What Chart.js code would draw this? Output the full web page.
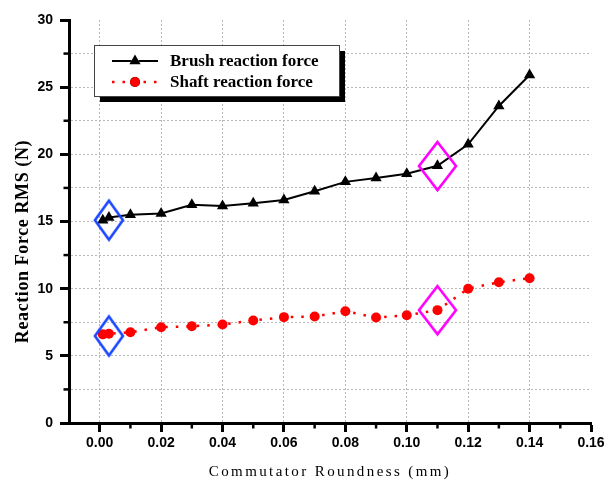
<!DOCTYPE html>
<html><head><meta charset="utf-8">
<script src="https://cdn.jsdelivr.net/npm/chart.js@4"></script>
<style>html,body{margin:0;padding:0;background:#fff}canvas{display:block}</style>
</head><body>
<canvas id="c" width="613" height="482"></canvas>
<script>
// ---------- data ----------
const roundness  = [0.001,0.003,0.01,0.02,0.03,0.04,0.05,0.06,0.07,0.08,0.09,0.10,0.11,0.12,0.13,0.14];
const brushForce = [15.1,15.3,15.5,15.6,16.25,16.15,16.35,16.6,17.25,17.95,18.23,18.55,19.15,20.75,23.6,25.9];
const shaftForce = [6.6,6.65,6.75,7.13,7.2,7.33,7.63,7.88,7.93,8.32,7.85,8.02,8.4,10.0,10.48,10.78];
const blueMarkX  = [0.003,0.003];
const blueMarkY  = [15.1,6.48];
const pinkMarkX  = [0.11,0.11];
const pinkMarkY  = [19.13,8.4];
const seriesLabels = ['Brush reaction force','Shaft reaction force'];
const xTitle = 'Commutator Roundness (mm)';
const yTitle = 'Reaction Force RMS (N)';
const xTickLabels = ['0.00','0.02','0.04','0.06','0.08','0.10','0.12','0.14','0.16'];
const yTickLabels = ['0','5','10','15','20','25','30'];
const xMinorTicks = [0.01,0.03,0.05,0.07,0.09,0.11,0.13,0.15];
const yMinorTicks = [2.5,7.5,12.5,17.5,22.5,27.5];

// ---------- helpers ----------
const pts = (xs, ys) => xs.map((x, i) => ({x, y: ys[i]}));
function diamond(w, h, color, lw) {
  const c = document.createElement('canvas');
  c.width = w + 6; c.height = h + 6;
  const g = c.getContext('2d');
  g.strokeStyle = color; g.lineWidth = lw; g.lineJoin = 'miter';
  g.beginPath();
  g.moveTo(c.width / 2, 3); g.lineTo(w + 3, c.height / 2);
  g.lineTo(c.width / 2, h + 3); g.lineTo(3, c.height / 2);
  g.closePath(); g.stroke();
  return c;
}
const TITLE_STYLE = { x: {spacing: 2.4, dx: 0, dy: 0}, y: {spacing: 0.6, dx: 0, dy: 20} };
const origDrawTitle = Chart.LinearScale.prototype.drawTitle;
Chart.LinearScale.prototype.drawTitle = function (...a) {
  const s = TITLE_STYLE[this.id] || {};
  const ctx = this.ctx;
  ctx.save();
  if ('letterSpacing' in ctx) ctx.letterSpacing = (s.spacing || 0) + 'px';
  ctx.translate(s.dx || 0, s.dy || 0);
  origDrawTitle.apply(this, a);
  ctx.restore();
};

const hund = v => Math.round(v * 100);
const tickFont = {family: "'Liberation Sans', Arial, sans-serif", size: 14, weight: 'bold'};
const GRID = '#b8b8b8';

const bgPlugin = {
  id: 'bg',
  beforeDraw(chart) {
    const c = chart.ctx; c.save(); c.fillStyle = '#fff';
    c.fillRect(0, 0, chart.width, chart.height); c.restore();
  }
};

const extrasPlugin = {
  id: 'extras',
  afterDraw(chart) {
    const c = chart.ctx, xs = chart.scales.x, ys = chart.scales.y, ca = chart.chartArea;
    c.save();
    c.strokeStyle = '#000'; c.lineWidth = 2.5;
    xMinorTicks.forEach(v => {
      const px = xs.getPixelForValue(v);
      c.beginPath(); c.moveTo(px, ca.bottom); c.lineTo(px, ca.bottom + 5.5); c.stroke();
    });
    yMinorTicks.forEach(v => {
      const py = ys.getPixelForValue(v);
      c.beginPath(); c.moveTo(ca.left, py); c.lineTo(ca.left - 5.5, py); c.stroke();
    });
    // legend
    const L = ca.left + 25, T = ca.top + 25, W = 245, H = 51;
    c.fillStyle = '#000'; c.fillRect(L + 6, T + 6, W, H);
    c.fillStyle = '#fff'; c.fillRect(L, T, W, H);
    c.strokeStyle = '#444'; c.lineWidth = 1; c.strokeRect(L + 0.5, T + 0.5, W, H);
    const ds = chart.data.datasets;
    const rows = [T + 16, T + 37];
    rows.forEach((ry, i) => {
      const d = ds[i];
      c.save();
      c.strokeStyle = d.borderColor; c.lineWidth = d.borderWidth;
      c.setLineDash(d.borderDash || []);
      c.beginPath(); c.moveTo(L + 18, ry); c.lineTo(L + 64, ry); c.stroke();
      c.restore();
      Chart.helpers.drawPoint(c, {pointStyle: d.pointStyle, radius: d.pointRadius, rotation: 0, borderWidth: 0},
        L + 41, ry);
      c.fillStyle = d.pointBackgroundColor; c.fill();
      c.fillStyle = '#000';
      c.font = "bold 17px 'Liberation Serif', 'Times New Roman', serif";
      c.textBaseline = 'middle'; c.textAlign = 'left';
      c.fillText(d.label, L + 76, ry + 1);
    });
    c.restore();
  }
};

new Chart(document.getElementById('c'), {
  type: 'scatter',
  data: {
    datasets: [
      {label: seriesLabels[0], data: pts(roundness, brushForce), showLine: true, order: 1,
       borderColor: '#000', borderWidth: 2, pointStyle: 'triangle', pointRadius: 6.5,
       pointBackgroundColor: '#000', pointBorderColor: '#000', pointBorderWidth: 0},
      {label: seriesLabels[1], data: pts(roundness, shaftForce), showLine: true, order: 2,
       borderColor: '#ff0000', borderWidth: 2.5, borderDash: [2.5, 8], pointStyle: 'circle', pointRadius: 5,
       pointBackgroundColor: '#ff0000', pointBorderColor: '#ff0000', pointBorderWidth: 0},
      {label: 'mark1', data: pts(blueMarkX, blueMarkY), showLine: false, order: 0,
       pointStyle: diamond(28, 39, '#1a46ff', 2.6), pointRadius: 10},
      {label: 'mark2', data: pts(pinkMarkX, pinkMarkY), showLine: false, order: 0,
       pointStyle: diamond(37, 48, '#ff00ff', 2.6), pointRadius: 10}
    ]
  },
  options: {
    responsive: false,
    animation: false,
    events: [],
    layout: {padding: {top: 20, right: 22, left: 0, bottom: 0}},
    plugins: {legend: {display: false}, tooltip: {enabled: false}},
    scales: {
      x: {
        type: 'linear', min: -0.01, max: 0.16,
        afterFit: s => { s.height = 59; },
        ticks: {stepSize: 0.01, autoSkip: false, maxRotation: 0, color: '#000', font: tickFont, padding: 3,
          callback: v => { const s = (hund(v) / 100).toFixed(2); return xTickLabels.includes(s) ? s : ''; }},
        grid: {
          color: ctx => { const h = hund(ctx.tick.value); return (h >= 0 && h <= 14 && h % 2 === 0) ? GRID : 'rgba(0,0,0,0)'; },
          lineWidth: 1, tickLength: 9, tickWidth: 3,
          tickColor: ctx => { const h = hund(ctx.tick.value); return (h >= 0 && h % 2 === 0) ? '#000' : 'rgba(0,0,0,0)'; }
        },
        border: {display: true, color: '#000', width: 3, dash: [2, 2]},
        title: {display: true, text: xTitle, color: '#000',
          font: {family: "'Liberation Serif', 'Times New Roman', serif", size: 15, weight: 'normal'},
          padding: {top: 0, bottom: 1}}
      },
      y: {
        type: 'linear', min: 0, max: 30,
        afterFit: s => { s.width = 69; },
        ticks: {stepSize: 2.5, autoSkip: false, color: '#000', font: tickFont, padding: 7,
          callback: v => yTickLabels.includes(String(v)) ? String(v) : ''},
        grid: {
          color: ctx => { const v = ctx.tick.value; return (v > 0 && v < 30) ? GRID : 'rgba(0,0,0,0)'; },
          lineWidth: 1, tickLength: 9, tickWidth: 3,
          tickColor: ctx => (ctx.tick.value % 5 === 0) ? '#000' : 'rgba(0,0,0,0)'
        },
        border: {display: true, color: '#000', width: 3, dash: [2, 2]},
        title: {display: true, text: yTitle, color: '#000',
          font: {family: "'Liberation Serif', 'Times New Roman', serif", size: 18, weight: 'bold'},
          padding: {top: 13, bottom: 0}}
      }
    }
  },
  plugins: [bgPlugin, extrasPlugin]
});
</script>
</body></html>
